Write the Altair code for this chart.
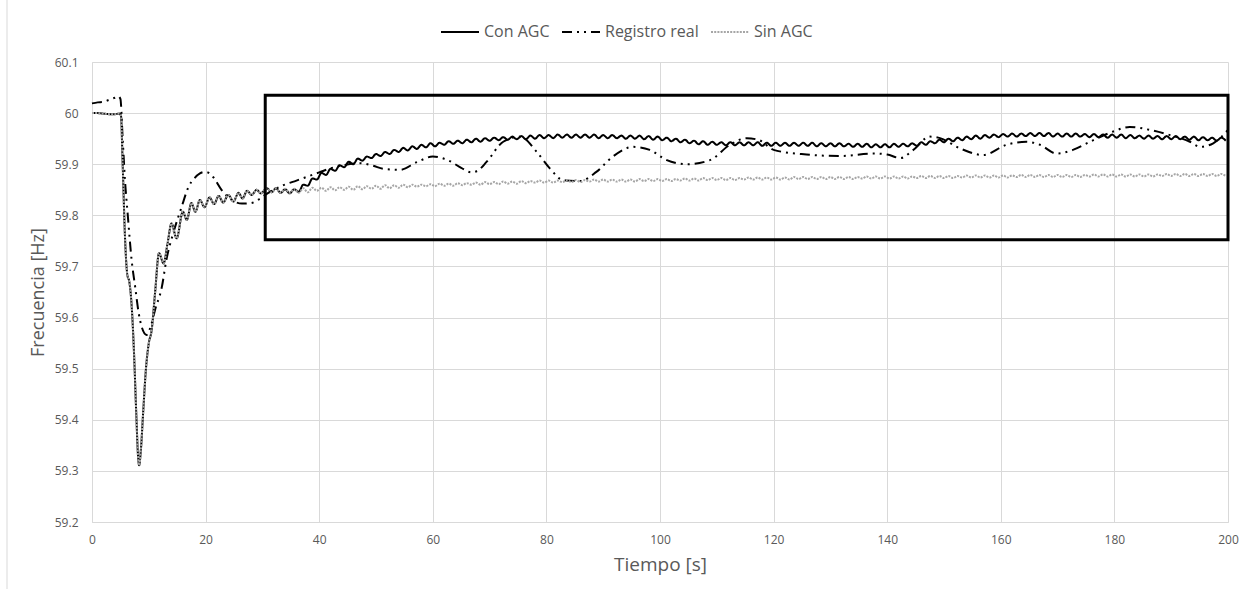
import altair as alt
import pandas as pd

# ---------------- data ----------------
SERIES = ["Con AGC", "Registro real", "Sin AGC"]

# shared part of both simulations (identical until ~31 s)
t_early = [0, 1, 2, 3, 4, 4.8, 5.1, 5.4, 5.8, 6.2, 6.6, 7.0, 7.4, 7.8, 8.1, 8.3, 8.6,
           9.0, 9.5, 10.0, 10.5, 11.1, 11.8, 12.6, 13.3, 14.0, 14.9, 16.0, 16.7, 17.5,
           18.2, 19.0, 19.8, 20.7, 21.5, 22.3, 23.1, 24.0, 24.9, 25.8, 26.5, 27.3, 28.1,
           29.0, 29.7, 30.8]
f_early = [60.000, 60.000, 59.999, 59.998, 59.998, 59.999, 59.995, 59.900, 59.760, 59.685,
           59.668, 59.620, 59.530, 59.410, 59.330, 59.311, 59.340, 59.413, 59.500, 59.550,
           59.575, 59.648, 59.726, 59.706, 59.745, 59.784, 59.755, 59.807, 59.791, 59.824,
           59.807, 59.830, 59.816, 59.835, 59.822, 59.838, 59.825, 59.840, 59.827, 59.844,
           59.833, 59.848, 59.840, 59.850, 59.843, 59.853]

# simulation output after 31.6 s, sampled every 0.8 s
t_late = [round(31.6 + 0.8 * i, 1) for i in range(211)]

con_late = [
    59.845, 59.853, 59.844, 59.851, 59.843, 59.851, 59.846, 59.860, 59.858, 59.872,
    59.870, 59.883, 59.879, 59.891, 59.887, 59.898, 59.894, 59.905, 59.900, 59.911,
    59.907, 59.915, 59.912, 59.920, 59.916, 59.924, 59.920, 59.928, 59.924, 59.932,
    59.927, 59.935, 59.930, 59.938, 59.933, 59.941, 59.935, 59.942, 59.938, 59.945,
    59.940, 59.946, 59.941, 59.948, 59.943, 59.950, 59.944, 59.951, 59.946, 59.952,
    59.947, 59.953, 59.948, 59.954, 59.949, 59.955, 59.949, 59.956, 59.950, 59.957,
    59.951, 59.957, 59.951, 59.958, 59.952, 59.958, 59.952, 59.958, 59.952, 59.958,
    59.952, 59.958, 59.951, 59.957, 59.951, 59.957, 59.951, 59.956, 59.950, 59.956,
    59.950, 59.956, 59.949, 59.955, 59.948, 59.954, 59.947, 59.952, 59.945, 59.950,
    59.943, 59.948, 59.941, 59.946, 59.939, 59.945, 59.938, 59.944, 59.938, 59.943,
    59.937, 59.943, 59.937, 59.943, 59.937, 59.943, 59.937, 59.943, 59.936, 59.942,
    59.936, 59.942, 59.936, 59.942, 59.936, 59.942, 59.936, 59.942, 59.936, 59.942,
    59.935, 59.941, 59.935, 59.941, 59.935, 59.941, 59.935, 59.940, 59.934, 59.940,
    59.934, 59.940, 59.933, 59.939, 59.933, 59.939, 59.933, 59.940, 59.934, 59.940,
    59.935, 59.941, 59.936, 59.943, 59.938, 59.945, 59.941, 59.948, 59.943, 59.950,
    59.945, 59.952, 59.947, 59.954, 59.949, 59.956, 59.950, 59.957, 59.952, 59.958,
    59.953, 59.959, 59.954, 59.960, 59.954, 59.960, 59.955, 59.961, 59.955, 59.961,
    59.955, 59.961, 59.954, 59.960, 59.954, 59.960, 59.954, 59.960, 59.954, 59.959,
    59.953, 59.959, 59.953, 59.958, 59.952, 59.958, 59.952, 59.958, 59.951, 59.957,
    59.951, 59.956, 59.950, 59.956, 59.950, 59.955, 59.949, 59.955, 59.949, 59.955,
    59.949, 59.954, 59.948, 59.954, 59.947, 59.953, 59.947, 59.952, 59.946, 59.952,
    59.946,
]

sin_late = [
    59.845, 59.853, 59.844, 59.852, 59.844, 59.852, 59.844, 59.853, 59.845, 59.854,
    59.848, 59.854, 59.848, 59.855, 59.849, 59.855, 59.850, 59.856, 59.850, 59.857,
    59.851, 59.857, 59.852, 59.858, 59.852, 59.859, 59.853, 59.859, 59.854, 59.860,
    59.855, 59.860, 59.856, 59.860, 59.857, 59.861, 59.857, 59.862, 59.858, 59.862,
    59.858, 59.863, 59.859, 59.863, 59.860, 59.864, 59.860, 59.865, 59.861, 59.865,
    59.861, 59.866, 59.862, 59.866, 59.862, 59.867, 59.863, 59.867, 59.864, 59.868,
    59.864, 59.868, 59.864, 59.868, 59.865, 59.869, 59.865, 59.869, 59.865, 59.869,
    59.866, 59.870, 59.866, 59.870, 59.866, 59.870, 59.866, 59.870, 59.866, 59.870,
    59.866, 59.871, 59.867, 59.871, 59.867, 59.871, 59.867, 59.871, 59.867, 59.871,
    59.868, 59.872, 59.868, 59.872, 59.868, 59.873, 59.869, 59.873, 59.869, 59.873,
    59.869, 59.873, 59.869, 59.873, 59.870, 59.874, 59.870, 59.874, 59.870, 59.874,
    59.870, 59.874, 59.870, 59.874, 59.870, 59.875, 59.871, 59.875, 59.871, 59.875,
    59.871, 59.875, 59.871, 59.875, 59.871, 59.875, 59.871, 59.875, 59.871, 59.875,
    59.872, 59.876, 59.872, 59.876, 59.872, 59.876, 59.872, 59.876, 59.872, 59.876,
    59.872, 59.876, 59.873, 59.877, 59.873, 59.877, 59.873, 59.877, 59.873, 59.877,
    59.873, 59.877, 59.874, 59.878, 59.874, 59.878, 59.874, 59.878, 59.874, 59.878,
    59.874, 59.878, 59.874, 59.878, 59.875, 59.879, 59.875, 59.879, 59.875, 59.879,
    59.875, 59.879, 59.875, 59.879, 59.875, 59.879, 59.875, 59.879, 59.875, 59.879,
    59.876, 59.880, 59.876, 59.880, 59.876, 59.880, 59.876, 59.880, 59.876, 59.880,
    59.876, 59.880, 59.876, 59.880, 59.876, 59.880, 59.877, 59.881, 59.877, 59.881,
    59.877, 59.881, 59.877, 59.881, 59.877, 59.881, 59.877, 59.881, 59.877, 59.881,
    59.877,
]

# measured record
t_reg = [0, 1, 2, 3, 4, 4.6, 5.0, 5.4, 5.8, 6.3, 7.0, 7.6, 8.2, 8.8, 9.6, 10.4, 11.1,
         12.3, 13.1, 14.3, 15.8, 17.0, 18.0, 19.0, 19.9, 20.7, 21.4, 22.8, 24.6, 26.4,
         28.0, 29.5, 30.5, 32.0, 33.7, 36.0, 38.0, 40.0, 42.0, 44.2, 47.2, 49.5, 51.3,
         54.2, 57.2, 60.0, 63.0, 65.0, 66.8, 68.0, 69.5, 72.4, 75.4, 78.3, 80.6, 82.9,
         85.9, 88.8, 91.7, 95.3, 98.2, 101.2, 104.7, 108.8, 112.3, 115.3, 117.5, 120.0,
         125.8, 131.7, 137.6, 140.0, 142.3, 144.6, 147.5, 149.3, 152.8, 156.9, 161.0,
         164.5, 166.9, 169.8, 172.7, 175.7, 179.8, 182.7, 186.3, 189.8, 193.3, 195.1,
         197.4, 200.0]
f_reg = [60.019, 60.021, 60.022, 60.026, 60.030, 60.033, 60.028, 59.950, 59.870, 59.800,
         59.710, 59.660, 59.610, 59.580, 59.566, 59.585, 59.615, 59.660, 59.713, 59.765,
         59.817, 59.856, 59.872, 59.882, 59.885, 59.882, 59.874, 59.850, 59.830, 59.823,
         59.824, 59.832, 59.840, 59.850, 59.859, 59.868, 59.876, 59.884, 59.892, 59.898,
         59.902, 59.897, 59.891, 59.889, 59.904, 59.915, 59.906, 59.893, 59.884, 59.888,
         59.905, 59.944, 59.954, 59.924, 59.892, 59.869, 59.867, 59.885, 59.915, 59.934,
         59.928, 59.908, 59.900, 59.908, 59.938, 59.951, 59.947, 59.928, 59.919, 59.916,
         59.921, 59.919, 59.912, 59.928, 59.954, 59.951, 59.931, 59.918, 59.938, 59.944,
         59.938, 59.921, 59.928, 59.944, 59.964, 59.973, 59.967, 59.957, 59.944, 59.934,
         59.941, 59.967]

# highlighted zone (rectangle drawn on the chart)
box_t = [30.5, 200]
box_f = [59.752, 60.035]

Y_TICKS = [59.2, 59.3, 59.4, 59.5, 59.6, 59.7, 59.8, 59.9, 60.0, 60.1]
X_TICKS = [0, 20, 40, 60, 80, 100, 120, 140, 160, 180, 200]

# ---------------- tables ----------------
rows = []
for t, f in zip(t_early + t_late, f_early + con_late):
    rows.append({"t": t, "f": f, "serie": "Con AGC"})
for t, f in zip(t_reg, f_reg):
    rows.append({"t": t, "f": f, "serie": "Registro real"})
for t, f in zip(t_early + t_late, f_early + sin_late):
    rows.append({"t": t, "f": f, "serie": "Sin AGC"})
df = pd.DataFrame(rows)

df_box = pd.DataFrame({"t1": [box_t[0]], "t2": [box_t[1]],
                       "f1": [box_f[0]], "f2": [box_f[1]]})

FONT = "Open Sans"
TXT = "#595959"
GRID = "#d9d9d9"

x_scale = alt.Scale(domain=[0, 200], nice=False, zero=False)
y_scale = alt.Scale(domain=[59.2, 60.1], nice=False, zero=False)

lines = alt.Chart(df).mark_line(interpolate="monotone", strokeWidth=2).encode(
    x=alt.X("t:Q", scale=x_scale, title="Tiempo [s]",
            axis=alt.Axis(values=X_TICKS, grid=True, gridColor=GRID, ticks=False,
                          domainColor=GRID, labelColor=TXT, labelFontSize=12,
                          labelPadding=12, labelFlush=False, titleColor=TXT,
                          titleFontSize=19, titleFontWeight="normal", titlePadding=10,
                          labelFont=FONT, titleFont=FONT)),
    y=alt.Y("f:Q", scale=y_scale, title="Frecuencia [Hz]",
            axis=alt.Axis(values=Y_TICKS, format=".4~g", grid=True, gridColor=GRID,
                          ticks=False, domainColor=GRID, labelColor=TXT,
                          labelFontSize=12, labelPadding=14, labelFlush=False,
                          titleColor=TXT, titleFontSize=18, titleFontWeight="normal",
                          titlePadding=7, labelFont=FONT, titleFont=FONT)),
    color=alt.Color("serie:N", title=None,
                    scale=alt.Scale(domain=SERIES, range=["#000000", "#000000", "#a6a6a6"]),
                    legend=alt.Legend(orient="none", direction="horizontal",
                                      legendX=348, legendY=-50, symbolType="stroke",
                                      symbolSize=1444, symbolStrokeWidth=2,
                                      labelFont=FONT, labelFontSize=16, labelColor=TXT,
                                      columnPadding=8, labelOffset=4)),
    strokeDash=alt.StrokeDash("serie:N", title=None,
                              scale=alt.Scale(domain=SERIES,
                                              range=[[1, 0], [10, 5, 2, 5, 2, 5], [2, 1.2]])),
)

box = alt.Chart(df_box).mark_rect(fillOpacity=0, stroke="black", strokeWidth=3).encode(
    x="t1:Q", x2="t2:Q", y="f1:Q", y2="f2:Q"
)

border = alt.Chart(pd.DataFrame({"a": [0]})).mark_rule(color=GRID, strokeWidth=1).encode(
    x=alt.value(-85), y=alt.value(-62), y2=alt.value(527)
)

chart = alt.layer(lines, box, border).properties(
    width=1136, height=460,
    autosize=alt.AutoSizeParams(type="none"),
    padding={"left": 92, "top": 62, "right": 21, "bottom": 67},
    background="white",
).configure_view(stroke=None)

chart.save("out.html", embed_options={"renderer": "svg", "actions": False})
